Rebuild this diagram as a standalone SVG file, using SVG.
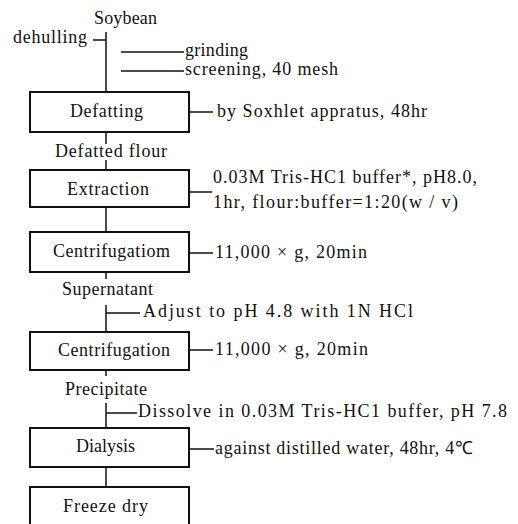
<svg xmlns="http://www.w3.org/2000/svg" width="518" height="524" viewBox="0 0 518 524">
<style>
text{font-family:"Liberation Serif",serif;font-size:18px;fill:#111}
.box{fill:#fff;stroke:#111;stroke-width:2}
.ln{stroke:#111;stroke-width:1.5;fill:none}
</style>
<rect width="518" height="524" fill="#fff"/>
<g id="connectors">
<line class="ln" x1="106" y1="32" x2="106" y2="92"/>
<line class="ln" x1="93" y1="40" x2="106" y2="40"/>
<line class="ln" x1="121" y1="52" x2="184" y2="52"/>
<line class="ln" x1="121" y1="71" x2="184" y2="71"/>
<line class="ln" x1="106" y1="132" x2="106" y2="144"/>
<line class="ln" x1="106" y1="160" x2="106" y2="170"/>
<line class="ln" x1="106" y1="207" x2="106" y2="232"/>
<line class="ln" x1="106" y1="272" x2="106" y2="279"/>
<line class="ln" x1="106" y1="305" x2="106" y2="332"/>
<line class="ln" x1="106" y1="313" x2="140" y2="313"/>
<line class="ln" x1="106" y1="370" x2="106" y2="376"/>
<line class="ln" x1="106" y1="403" x2="106" y2="428"/>
<line class="ln" x1="106" y1="413" x2="137" y2="413"/>
<line class="ln" x1="106" y1="467" x2="106" y2="487"/>
<line class="ln" x1="190" y1="112" x2="213" y2="112"/>
<line class="ln" x1="190" y1="192" x2="212" y2="192"/>
<line class="ln" x1="190" y1="253" x2="213" y2="253"/>
<line class="ln" x1="190" y1="350" x2="213" y2="350"/>
<line class="ln" x1="190" y1="449" x2="214" y2="449"/>
</g>
<g id="labels">
<text x="94" y="24" textLength="63" lengthAdjust="spacing">Soybean</text>
<text x="13" y="43" textLength="74" lengthAdjust="spacing">dehulling</text>
<text x="185" y="56" textLength="63" lengthAdjust="spacing">grinding</text>
<text x="185" y="75" textLength="153" lengthAdjust="spacing">screening, 40 mesh</text>
<text x="217" y="117" textLength="210" lengthAdjust="spacing">by Soxhlet appratus, 48hr</text>
<text x="55" y="157" textLength="112" lengthAdjust="spacing">Defatted flour</text>
<text x="213" y="183" textLength="264" lengthAdjust="spacing">0.03M Tris-HC1 buffer*, pH8.0,</text>
<text x="213" y="208" textLength="245" lengthAdjust="spacing">1hr, flour:buffer=1:20(w / v)</text>
<text x="215" y="258" textLength="152" lengthAdjust="spacing">11,000 × g, 20min</text>
<text x="62" y="295" textLength="91" lengthAdjust="spacing">Supernatant</text>
<text x="143" y="317" textLength="270" lengthAdjust="spacing">Adjust to pH 4.8 with 1N HCl</text>
<text x="215" y="355" textLength="153" lengthAdjust="spacing">11,000 × g, 20min</text>
<text x="65" y="395" textLength="82" lengthAdjust="spacing">Precipitate</text>
<text x="138" y="417" textLength="369" lengthAdjust="spacing">Dissolve in 0.03M Tris-HC1 buffer, pH 7.8</text>
<text x="215" y="454" textLength="258" lengthAdjust="spacing">against distilled water, 48hr, 4℃</text>
</g>
<g id="defatting">
<rect class="box" x="30" y="92" width="159" height="40"/>
<text x="70" y="117" textLength="73" lengthAdjust="spacing">Defatting</text>
</g>
<g id="extraction">
<rect class="box" x="30" y="170" width="159" height="37"/>
<text x="67" y="195" textLength="82" lengthAdjust="spacing">Extraction</text>
</g>
<g id="centrifugatiom">
<rect class="box" x="30" y="232" width="159" height="40"/>
<text x="53" y="257" textLength="117" lengthAdjust="spacing">Centrifugatiom</text>
</g>
<g id="centrifugation">
<rect class="box" x="30" y="332" width="159" height="38"/>
<text x="58" y="356" textLength="112" lengthAdjust="spacing">Centrifugation</text>
</g>
<g id="dialysis">
<rect class="box" x="30" y="428" width="159" height="39"/>
<text x="76" y="452" textLength="59" lengthAdjust="spacing">Dialysis</text>
</g>
<g id="freeze-dry">
<path class="box" d="M30 526 V487 H189 V526"/>
<text x="63" y="512" textLength="85" lengthAdjust="spacing">Freeze dry</text>
</g>
</svg>
